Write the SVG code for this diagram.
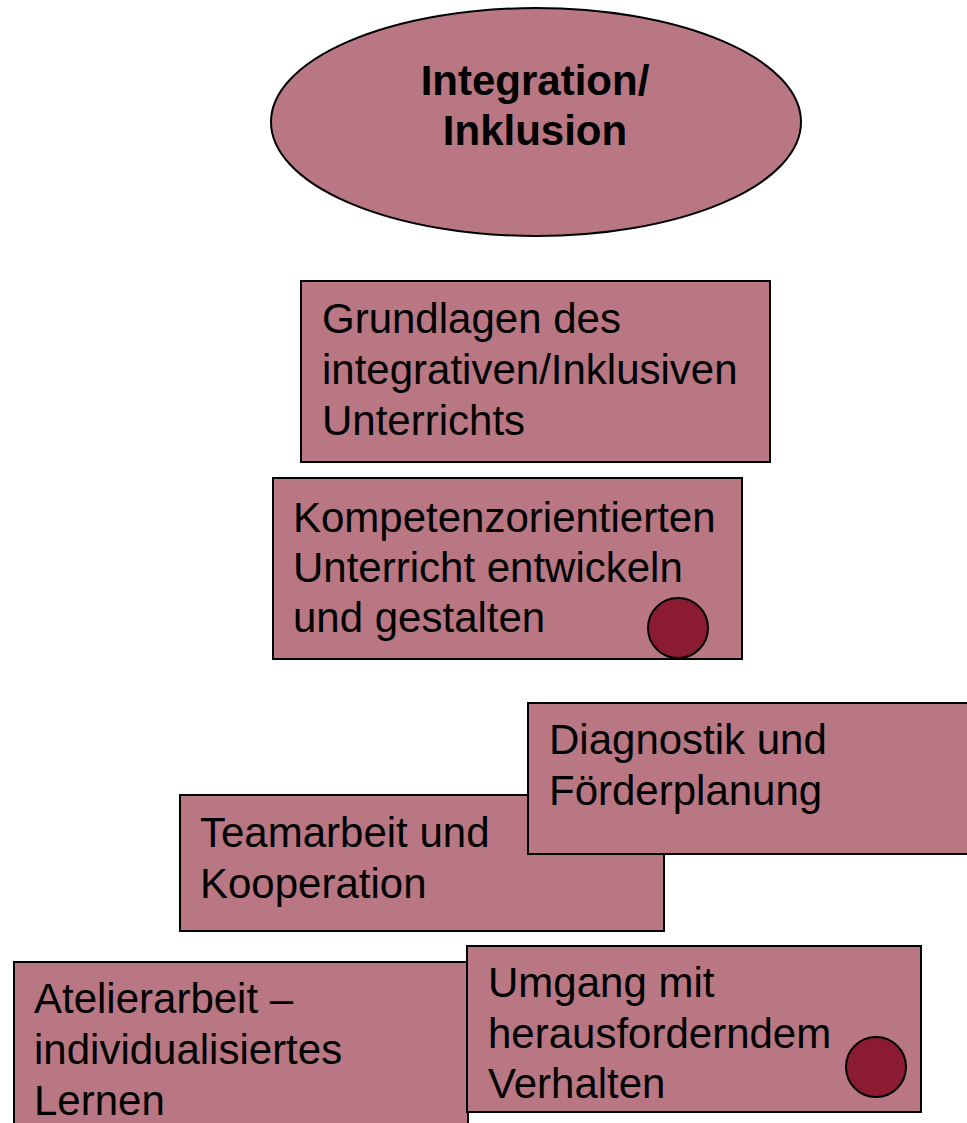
<svg xmlns="http://www.w3.org/2000/svg" width="967" height="1123" viewBox="0 0 967 1123">
<style>
.shape{fill:#B87782;stroke:#000;stroke-width:2}
.dot{fill:#8A1B30;stroke:#000;stroke-width:2}
.t{font-family:"Liberation Sans",Arial,sans-serif;font-size:42px;fill:#000}
.b{font-weight:bold;text-anchor:middle}
</style>
<rect width="967" height="1123" fill="#fff"/>
<g id="node-integration">
<ellipse class="shape" cx="536" cy="122" rx="265" ry="114"/>
<text class="t b" x="535" y="95">Integration/</text>
<text class="t b" x="535" y="145">Inklusion</text>
</g>
<g id="node-grundlagen">
<rect class="shape" x="301" y="281" width="469" height="181"/>
<text class="t" x="322" y="333">Grundlagen des</text>
<text class="t" x="322" y="384">integrativen/Inklusiven</text>
<text class="t" x="322" y="435">Unterrichts</text>
</g>
<g id="node-kompetenz">
<rect class="shape" x="273" y="478" width="469" height="181"/>
<text class="t" x="293" y="532">Kompetenzorientierten</text>
<text class="t" x="293" y="582">Unterricht entwickeln</text>
<text class="t" x="293" y="632">und gestalten</text>
<circle class="dot" cx="678" cy="628" r="30"/>
</g>
<g id="node-teamarbeit">
<rect class="shape" x="180" y="795" width="484" height="136"/>
<text class="t" x="200" y="847">Teamarbeit und</text>
<text class="t" x="200" y="898">Kooperation</text>
</g>
<g id="node-diagnostik">
<rect class="shape" x="528" y="703" width="445" height="151"/>
<text class="t" x="549" y="754">Diagnostik und</text>
<text class="t" x="549" y="805">Förderplanung</text>
</g>
<g id="node-atelier">
<rect class="shape" x="14" y="962" width="454" height="170"/>
<text class="t" x="34" y="1013">Atelierarbeit –</text>
<text class="t" x="34" y="1064">individualisiertes</text>
<text class="t" x="34" y="1115">Lernen</text>
</g>
<g id="node-umgang">
<rect class="shape" x="467" y="946" width="454" height="166"/>
<text class="t" x="488" y="997">Umgang mit</text>
<text class="t" x="488" y="1048">herausforderndem</text>
<text class="t" x="488" y="1098">Verhalten</text>
<circle class="dot" cx="876" cy="1067" r="30"/>
</g>
<g id="connectors"></g>
</svg>
